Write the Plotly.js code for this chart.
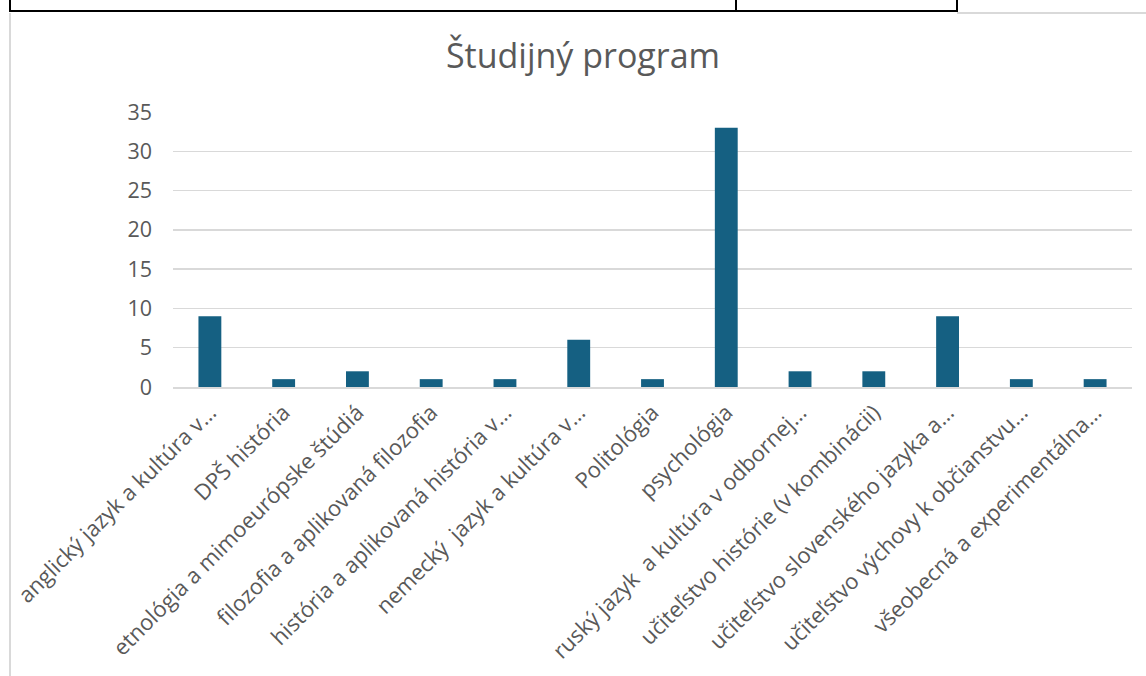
<!DOCTYPE html>
<html>
<head>
<meta charset="utf-8">
<script src="https://cdn.plot.ly/plotly-3.0.1.min.js"></script>
<style>
  html, body { margin: 0; padding: 0; background: #fff; }
  #wrap { position: relative; width: 1146px; height: 676px; overflow: hidden; }
  #chart { position: absolute; left: 0; top: 0; width: 1146px; height: 676px; }
  .ln { position: absolute; }
</style>
</head>
<body>
<div id="wrap">
  <div id="chart"></div>
  <div class="ln" style="left:9px;top:13px;width:2px;height:663px;background:#d9d9d9;"></div>
  <div class="ln" style="left:957px;top:12px;width:189px;height:2px;background:#d9d9d9;"></div>
  <div class="ln" style="left:9px;top:0px;width:2px;height:12px;background:#000;"></div>
  <div class="ln" style="left:9px;top:10px;width:949px;height:2px;background:#000;"></div>
  <div class="ln" style="left:735px;top:0px;width:2px;height:12px;background:#000;"></div>
  <div class="ln" style="left:956px;top:0px;width:2px;height:12px;background:#000;"></div>
</div>
<script>
const categories = [
  "anglický jazyk a kultúra v…",
  "DPŠ história",
  "etnológia a mimoeurópske štúdiá",
  "filozofia a aplikovaná filozofia",
  "história a aplikovaná história v…",
  "nemecký  jazyk a kultúra v…",
  "Politológia",
  "psychológia",
  "ruský jazyk  a kultúra v odbornej…",
  "učiteľstvo histórie (v kombinácii)",
  "učiteľstvo slovenského jazyka a…",
  "učiteľstvo výchovy k občianstvu…",
  "všeobecná a experimentálna…"
];
const counts = [9, 1, 2, 1, 1, 6, 1, 33, 2, 2, 9, 1, 1];
const yTicks = [0, 5, 10, 15, 20, 25, 30, 35];
const chartTitle = "Študijný program";

const font = "'Open Sans', 'Liberation Sans', sans-serif";
const textColor = "#595959";

Plotly.newPlot("chart", [{
  type: "bar",
  x: categories,
  y: counts,
  marker: { color: "#156082" },
  hoverinfo: "x+y"
}], {
  width: 1146,
  height: 676,
  margin: { l: 173, r: 14, t: 112, b: 289 },
  paper_bgcolor: "rgba(0,0,0,0)",
  plot_bgcolor: "rgba(0,0,0,0)",
  bargap: 0.69,
  showlegend: false,
  title: {
    text: chartTitle,
    font: { family: font, size: 34, color: textColor },
    x: 583 / 1146, xanchor: "center", xref: "container",
    y: 1 - 56 / 676, yanchor: "middle", yref: "container"
  },
  xaxis: {
    type: "category",
    tickangle: -45,
    tickfont: { family: font, size: 22, color: textColor },
    showgrid: false,
    showline: true,
    linecolor: "#d9d9d9",
    linewidth: 2,
    ticks: "",
    ticklabelshift: 0,
    ticklabelstandoff: 2,
    automargin: false
  },
  yaxis: {
    range: [0, 35],
    tickvals: yTicks,
    ticktext: yTicks.map(String),
    tickfont: { family: font, size: 21.5, color: textColor },
    showgrid: true,
    gridcolor: "#d9d9d9",
    gridwidth: 1.5,
    zeroline: false,
    showline: false,
    ticks: "",
    ticklen: 0,
    ticklabelstandoff: 20,
    automargin: false
  }
}, { displayModeBar: false, staticPlot: true });
</script>
</body>
</html>
